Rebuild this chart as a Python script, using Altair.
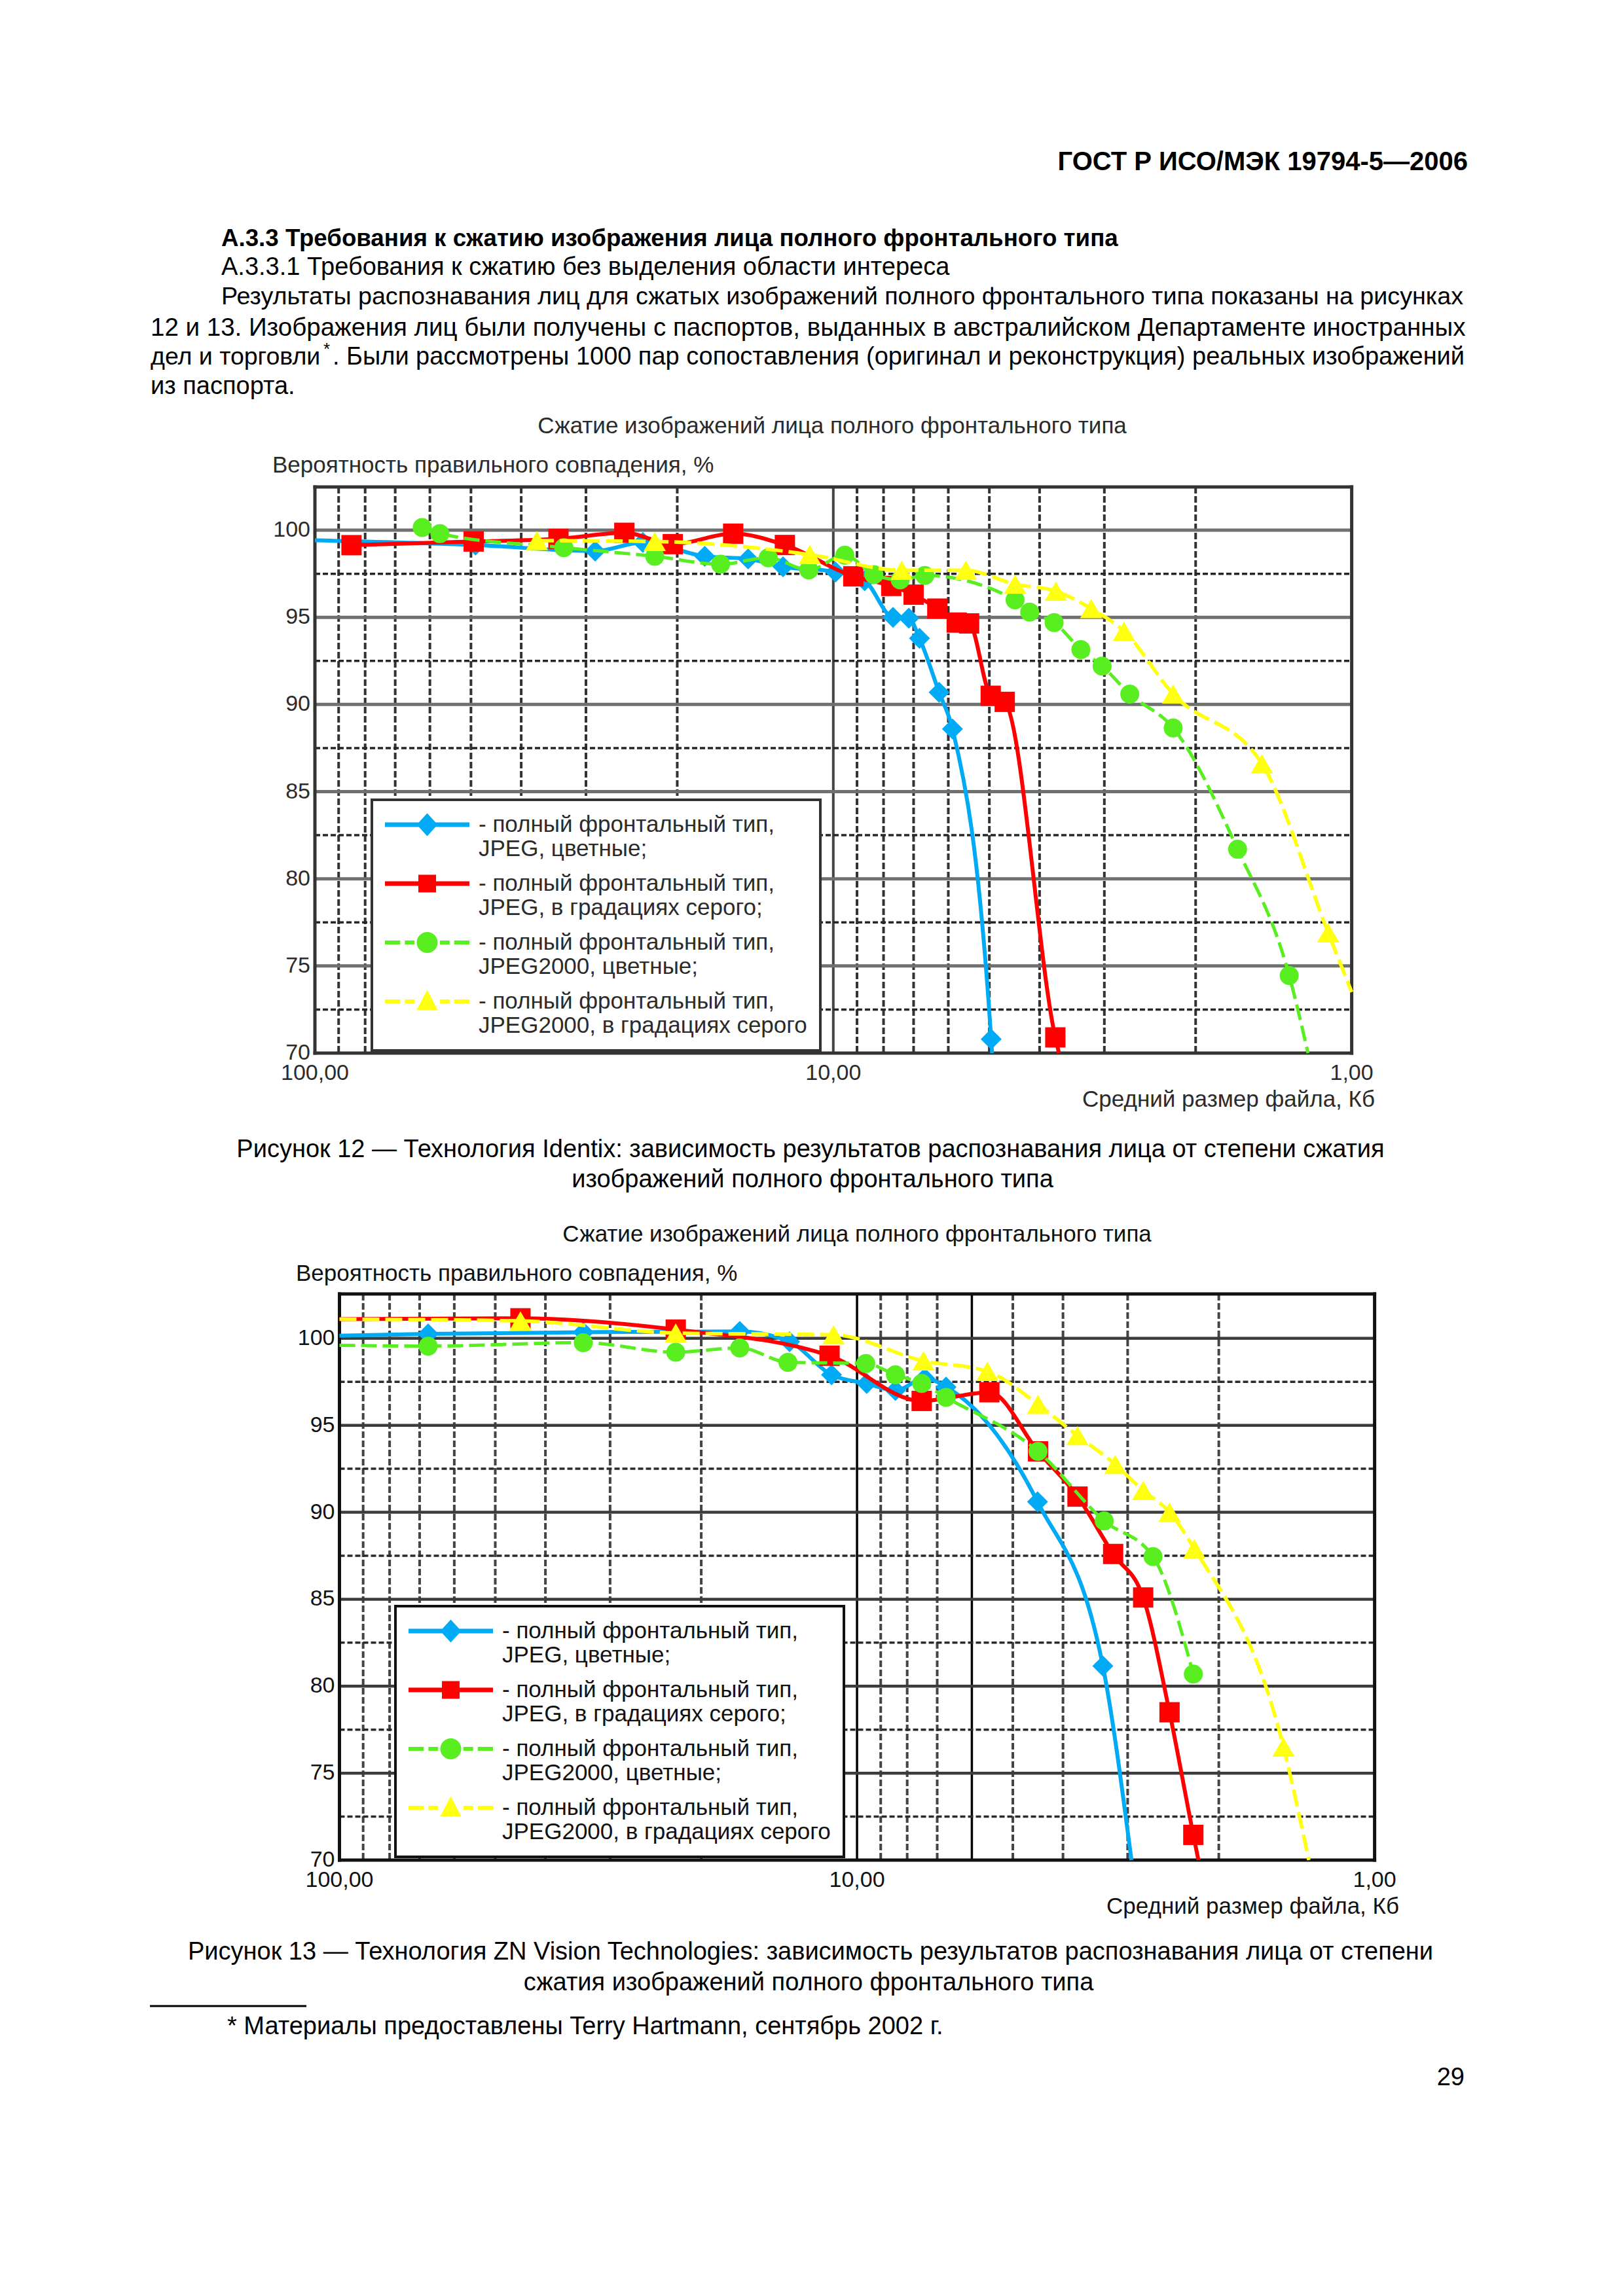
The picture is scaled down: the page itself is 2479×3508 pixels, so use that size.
import altair as alt
import pandas as pd

# ------------------------------------------------------------------ page text
header_text = "ГОСТ Р ИСО/МЭК 19794-5—2006"
heading_text = "А.3.3 Требования к сжатию изображения лица полного фронтального типа"
subheading_text = "А.3.3.1 Требования к сжатию без выделения области интереса"
para_line1 = "Результаты распознавания лиц для сжатых изображений полного фронтального типа показаны на рисунках"
para_line2 = "12 и 13. Изображения лиц были получены с паспортов, выданных в австралийском Департаменте иностранных"
para_line3a = "дел и торговли"
para_line3b = ". Были рассмотрены 1000 пар сопоставления (оригинал и реконструкция) реальных изображений"
para_line4 = "из паспорта."
chart_title = "Сжатие изображений лица полного фронтального типа"
y_title = "Вероятность правильного совпадения, %"
x_title = "Средний размер файла, Кб"
caption12 = ["Рисунок 12 — Технология Identix: зависимость результатов распознавания лица от степени сжатия",
             "изображений полного фронтального типа"]
caption13 = ["Рисунок 13 — Технология ZN Vision Technologies: зависимость результатов распознавания лица от степени",
             "сжатия изображений полного фронтального типа"]
footnote_text = "* Материалы предоставлены Terry Hartmann, сентябрь 2002 г."
page_number = "29"

# ------------------------------------------------------------------ axes
y_ticks = [100, 95, 90, 85, 80, 75, 70]
x_ticks = [100, 10, 1]
x_tick_labels = ["100,00", "10,00", "1,00"]
x_grid = [90, 80, 70, 60, 50, 40, 30, 20, 10, 9, 8, 7, 6, 5, 4, 3, 2]
y_major = [100, 95, 90, 85, 80, 75]
y_minor = [97.5, 92.5, 87.5, 82.5, 77.5, 72.5]
x_frame = [100, 1]

NB = "\u00a0\u00a0"
legend_labels = [
    "- полный фронтальный тип,|" + NB + "JPEG, цветные;",
    "- полный фронтальный тип,|" + NB + "JPEG, в градациях серого;",
    "- полный фронтальный тип,|" + NB + "JPEG2000, цветные;",
    "- полный фронтальный тип,|" + NB + "JPEG2000, в градациях серого",
]

# ------------------------------------------------------------------ Figure 12 (Identix)
f12_ymax = 102.48
f12_blue_x = [49, 28.8, 23.3, 17.7, 14.6, 12.5, 9.9, 8.7, 7.67, 7.15, 6.82, 6.25, 5.89, 4.96]
f12_blue_y = [99.15, 98.8, 99.3, 98.5, 98.35, 97.9, 97.6, 97.1, 95.0, 94.95, 93.8, 90.7, 88.6, 70.8]
f12_blue_lead = ([100], [99.42])
f12_blue_tail = ([4.94], [70])

f12_red_x = [85, 49.4, 33.9, 25.3, 20.4, 15.6, 12.4, 9.15, 7.73, 7.0, 6.3, 5.78, 5.47, 4.97, 4.67, 3.73]
f12_red_y = [99.14, 99.35, 99.5, 99.85, 99.2, 99.8, 99.15, 97.35, 96.8, 96.3, 95.5, 94.7, 94.65, 90.5, 90.15, 70.9]
f12_red_lead = ([], [])
f12_red_tail = ([3.67], [70])

f12_green_x = [62.1, 57.4, 33.1, 22.1, 16.5, 13.35, 11.15, 9.5, 8.35, 7.43, 6.66, 4.46, 4.18, 3.75,
               3.33, 3.03, 2.68, 2.21, 1.66, 1.32]
f12_green_y = [100.15, 99.8, 99.0, 98.5, 98.05, 98.42, 97.72, 98.57, 97.45, 97.15, 97.4, 96.0, 95.3, 94.7,
               93.15, 92.2, 90.6, 88.65, 81.7, 74.45]
f12_green_lead = ([], [])
f12_green_tail = ([1.214], [70])

f12_yellow_x = [37.3, 22.1, 11.1, 7.38, 5.55, 4.46, 3.72, 3.18, 2.75, 2.21, 1.49, 1.11]
f12_yellow_y = [99.4, 99.35, 98.6, 97.7, 97.7, 96.9, 96.5, 95.5, 94.2, 90.6, 86.6, 76.9]
f12_yellow_lead = ([], [])
f12_yellow_tail = ([1.0], [73.5])

# ------------------------------------------------------------------ Figure 13 (ZN Vision)
f13_ymax = 102.55
f13_blue_x = [67.4, 33.8, 16.85, 13.5, 11.2, 9.58, 8.43, 7.4, 6.73, 4.48, 3.35]
f13_blue_y = [100.25, 100.35, 100.4, 99.8, 97.9, 97.4, 97.0, 97.7, 97.2, 90.6, 81.16]
f13_blue_lead = ([100], [100.15])
f13_blue_tail = ([2.95], [70])

f13_red_x = [44.7, 22.4, 11.3, 7.5, 5.55, 4.47, 3.75, 3.2, 2.8, 2.49, 2.24]
f13_red_y = [101.15, 100.5, 99.0, 96.4, 96.9, 93.5, 90.9, 87.6, 85.1, 78.5, 71.45]
f13_red_lead = ([100], [101.1])
f13_red_tail = ([2.19], [70])

f13_green_x = [67.4, 33.8, 22.4, 16.85, 13.6, 9.62, 8.43, 7.5, 6.73, 4.47, 3.33, 2.68, 2.24]
f13_green_y = [99.55, 99.75, 99.2, 99.45, 98.62, 98.55, 97.9, 97.4, 96.6, 93.5, 89.5, 87.45, 80.7]
f13_green_lead = ([100], [99.6])
f13_green_tail = ([], [])

f13_yellow_x = [44.7, 22.4, 11.1, 7.44, 5.6, 4.47, 3.75, 3.17, 2.8, 2.49, 2.23, 1.5]
f13_yellow_y = [101.0, 100.3, 100.2, 98.7, 98.1, 96.2, 94.4, 92.75, 91.25, 90.0, 87.9, 76.5]
f13_yellow_lead = ([100], [101.1])
f13_yellow_tail = ([1.34], [70])

# ------------------------------------------------------------------ layout / styles
W, H = 2463, 3492
FONT = "Liberation Sans"
G12 = dict(x0=473, x1=2056.6, yb=1601, yt=736)
G13 = dict(x0=510.5, x1=2091.6, yb=2834, yt=1969)

STYLE = {
    "blue": dict(color="#00AAF5", width=6, dash=None, shape="diamond", size=1024),
    "red": dict(color="#FF0000", width=6, dash=None, shape="square", size=961),
    "green": dict(color="#58EE20", width=5, dash=[24, 9], shape="circle", size=841),
    "yellow": dict(color="#FFFF10", width=5.5, dash=[26, 9], shape="triangle-up", size=1156),
}
KEYS = ["blue", "red", "green", "yellow"]

# legend symbols: unit = 18 px (symbolSize 36^2); drawn 129 px wide
LINE = "M-3.583,-0.194H3.583V0.194H-3.583Z "
DASH = ("M-3.583,-0.161H-2.294V0.161H-3.583Z M-1.9,-0.161H-1.075V0.161H-1.9Z "
        "M1.075,-0.161H1.9V0.161H1.075Z M2.294,-0.161H3.583V0.161H2.294Z ")
LEGEND_PATHS = [
    LINE + "M0,-0.967L0.889,0L0,0.967L-0.889,0Z",
    LINE + "M-0.75,-0.75H0.75V0.75H-0.75Z",
    DASH + "M-0.889,0A0.889,0.889 0 1,1 0.889,0A0.889,0.889 0 1,1 -0.889,0Z",
    DASH + "M0,-0.967L0.889,0.72L-0.889,0.72Z",
]


def text(s, x, y, size=38, weight="normal", align="left", color="#000000", baseline="middle"):
    return alt.Chart(pd.DataFrame({"t": [s]})).mark_text(
        align=align, baseline=baseline, font=FONT, fontSize=size, fontWeight=weight, color=color
    ).encode(x=alt.value(x), y=alt.value(y), text="t:N")


def figure(g, ymax, series, solid_v, grid, tcolor, legend_xy, texts):
    xsc = alt.Scale(type="log", domain=[100, 1], range=[g["x0"], g["x1"]], nice=False)
    ysc = alt.Scale(domain=[70, ymax], range=[g["yb"], g["yt"]], nice=False, zero=False)

    def X(f):
        return alt.X(f, scale=xsc, axis=None)

    def Y(f):
        return alt.Y(f, scale=ysc, axis=None)

    L = []
    dashed_v = [v for v in x_grid if v not in solid_v]
    L.append(alt.Chart(pd.DataFrame({"v": dashed_v})).mark_rule(
        color=grid["vc"], strokeWidth=grid["vw"], strokeDash=[10, 4]).encode(
        x=X("v:Q"), y=alt.value(g["yt"]), y2=alt.value(g["yb"])))
    L.append(alt.Chart(pd.DataFrame({"v": solid_v})).mark_rule(
        color=grid["sc"], strokeWidth=grid["sw"]).encode(
        x=X("v:Q"), y=alt.value(g["yt"]), y2=alt.value(g["yb"])))
    L.append(alt.Chart(pd.DataFrame({"v": y_minor})).mark_rule(
        color=grid["mc"], strokeWidth=3.5, strokeDash=[8, 4]).encode(
        y=Y("v:Q"), x=alt.value(g["x0"]), x2=alt.value(g["x1"])))
    L.append(alt.Chart(pd.DataFrame({"v": y_major})).mark_rule(
        color=grid["hc"], strokeWidth=grid["hw"]).encode(
        y=Y("v:Q"), x=alt.value(g["x0"]), x2=alt.value(g["x1"])))
    # frame
    L.append(alt.Chart(pd.DataFrame({"v": x_frame})).mark_rule(
        color=grid["fc"], strokeWidth=5).encode(
        x=X("v:Q"), y=alt.value(g["yt"] - 2.5), y2=alt.value(g["yb"] + 2.5)))
    L.append(alt.Chart(pd.DataFrame({"v": [70, ymax]})).mark_rule(
        color=grid["fc"], strokeWidth=5).encode(
        y=Y("v:Q"), x=alt.value(g["x0"] - 2.5), x2=alt.value(g["x1"] + 2.5)))

    # tick labels
    L.append(alt.Chart(pd.DataFrame({"v": y_ticks})).mark_text(
        align="right", baseline="middle", font=FONT, fontSize=34, color=tcolor).encode(
        y=Y("v:Q"), x=alt.value(g["x0"] - 7), text=alt.Text("v:Q", format="d")))
    L.append(alt.Chart(pd.DataFrame({"v": x_ticks, "lab": x_tick_labels})).mark_text(
        align="center", baseline="middle", font=FONT, fontSize=34, color=tcolor).encode(
        x=X("v:Q"), y=alt.value(texts["xlab_y"]), text="lab:N"))

    # data series
    for key, (xs, ys, lead, tail) in zip(KEYS, series):
        st = STYLE[key]
        lx = list(lead[0]) + list(xs) + list(tail[0])
        ly = list(lead[1]) + list(ys) + list(tail[1])
        dfl = pd.DataFrame({"x": lx, "y": ly, "i": list(range(len(lx)))})
        kw = dict(color=st["color"], strokeWidth=st["width"], interpolate="monotone")
        if st["dash"]:
            kw["strokeDash"] = st["dash"]
        L.append(alt.Chart(dfl).mark_line(**kw).encode(x=X("x:Q"), y=Y("y:Q"), order="i:Q"))
        dfp = pd.DataFrame({"x": xs, "y": ys})
        L.append(alt.Chart(dfp).mark_point(
            filled=True, shape=st["shape"], size=st["size"], color=st["color"], opacity=1,
            strokeWidth=0).encode(x=X("x:Q"), y=Y("y:Q")))

    # legend (real Vega-Lite legend, placed inside the plot)
    leg = alt.Legend(
        title=None, orient="none", legendX=legend_xy[0], legendY=legend_xy[1], direction="vertical",
        fillColor="white", strokeColor=grid["fc"], padding=20, rowPadding=17,
        symbolSize=1296, symbolOffset=46.5, symbolStrokeWidth=0, symbolOpacity=1,
        labelFont=FONT, labelFontSize=35, labelColor=tcolor, labelLimit=2000, labelOffset=60.5,
        labelExpr="split(datum.label, '|')", labelBaseline="middle", zindex=1)
    L.append(alt.Chart(pd.DataFrame({"s": legend_labels})).mark_point(filled=True).encode(
        x=alt.value(-400), y=alt.value(-400),
        color=alt.Color("s:N", scale=alt.Scale(domain=legend_labels, range=[STYLE[k]["color"] for k in KEYS]),
                        legend=leg),
        shape=alt.Shape("s:N", scale=alt.Scale(domain=legend_labels, range=LEGEND_PATHS), legend=leg)))

    # titles
    L.append(text(chart_title, texts["title_x"], texts["title_y"], size=35, align="center", color=tcolor))
    L.append(text(y_title, texts["yt_x"], texts["yt_y"], size=35, color=tcolor))
    L.append(text(x_title, texts["xt_x"], texts["xt_y"], size=35, align="right", color=tcolor))
    return L


layers = []
# page header and paragraph (font sizes tuned per line to mimic the justified block)
layers.append(text(header_text, 2234, 240, size=40, weight="bold", align="right"))
layers.append(text(heading_text, 330, 357, size=36.7, weight="bold"))
layers.append(text(subheading_text, 330, 401))
layers.append(text(para_line1, 330, 446, size=37.7))
layers.append(text(para_line2, 222, 493, size=38.5))
layers.append(text(para_line3a, 222, 538, size=37.5))
layers.append(text("*", 486, 526, size=26))
layers.append(text(para_line3b, 500, 538, size=37.95))
layers.append(text(para_line4, 222, 583))

series12 = [
    (f12_blue_x, f12_blue_y, f12_blue_lead, f12_blue_tail),
    (f12_red_x, f12_red_y, f12_red_lead, f12_red_tail),
    (f12_green_x, f12_green_y, f12_green_lead, f12_green_tail),
    (f12_yellow_x, f12_yellow_y, f12_yellow_lead, f12_yellow_tail),
]
series13 = [
    (f13_blue_x, f13_blue_y, f13_blue_lead, f13_blue_tail),
    (f13_red_x, f13_red_y, f13_red_lead, f13_red_tail),
    (f13_green_x, f13_green_y, f13_green_lead, f13_green_tail),
    (f13_yellow_x, f13_yellow_y, f13_yellow_lead, f13_yellow_tail),
]
grid12 = dict(vc="#333333", vw=4, sc="#444444", sw=4, mc="#262626", hc="#707070", hw=5, fc="#333333")
grid13 = dict(vc="#444444", vw=4, sc="#000000", sw=3.5, mc="#2a2a2a", hc="#3c3c3c", hw=4.5, fc="#111111")
texts12 = dict(xlab_y=1632, title_x=1263, title_y=643, yt_x=408, yt_y=703, xt_x=2092, xt_y=1672)
texts13 = dict(xlab_y=2865, title_x=1301, title_y=1878, yt_x=444, yt_y=1938, xt_x=2129, xt_y=2905)

layers += figure(G12, f12_ymax, series12, [10], grid12, "#2b2b2b", (560, 1214), texts12)
layers.append(text(caption12[0], 1230, 1749, align="center"))
layers.append(text(caption12[1], 1233, 1795, align="center"))

layers += figure(G13, f13_ymax, series13, [10, 6], grid13, "#111111", (596, 2446), texts13)
layers.append(text(caption13[0], 1230, 2975, align="center"))
layers.append(text(caption13[1], 1227, 3022, align="center"))

# footnote
layers.append(alt.Chart(pd.DataFrame({"t": [0]})).mark_rule(color="#000000", strokeWidth=3).encode(
    x=alt.value(221), x2=alt.value(460), y=alt.value(3057)))
layers.append(text(footnote_text, 339, 3089))
layers.append(text(page_number, 2229, 3167, align="right"))

chart = alt.layer(*layers).resolve_scale(
    x="independent", y="independent", color="independent", shape="independent"
).resolve_legend(color="independent", shape="independent").properties(
    width=W, height=H, autosize=alt.AutoSizeParams(type="none"), padding=0, background="white"
).configure_view(strokeWidth=0).configure_legend(strokeWidth=4)

chart.save("out.html", embed_options={"renderer": "svg", "actions": False})
